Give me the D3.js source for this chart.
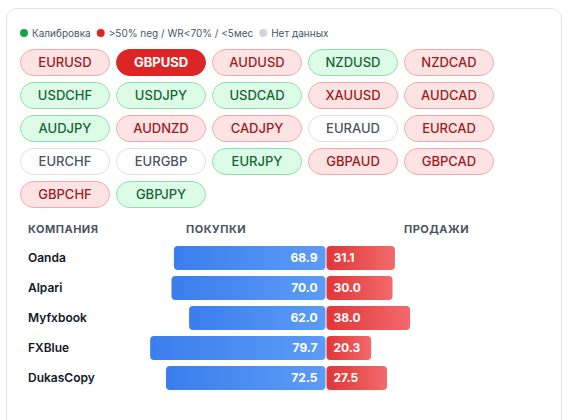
<!DOCTYPE html>
<html lang="ru">
  <head>
    <meta charset="UTF-8" />
    <title>pairs</title>
    <script src="https://d3js.org/d3.v7.min.js"></script>
    <style>
      body { margin: 0; background: #fff; font-family: Inter, "Noto Sans", sans-serif; }
    </style>
  </head>
  <body>
    <script>
      // пары и их статус
      var pairs = [
        "EURUSD", "GBPUSD", "AUDUSD", "NZDUSD", "NZDCAD",
        "USDCHF", "USDJPY", "USDCAD", "XAUUSD", "AUDCAD",
        "AUDJPY", "AUDNZD", "CADJPY", "EURAUD", "EURCAD",
        "EURCHF", "EURGBP", "EURJPY", "GBPAUD", "GBPCAD",
        "GBPCHF", "GBPJPY"
      ];
      var pairStatus = [
        "neg", "sel", "neg", "pos", "neg",
        "pos", "pos", "pos", "neg", "neg",
        "pos", "neg", "neg", "none", "neg",
        "none", "none", "pos", "neg", "neg",
        "neg", "pos"
      ];
      var legendLabels = ["Калибровка", ">50% neg / WR<70% / <5мес", "Нет данных"];
      var headers = ["КОМПАНИЯ", "ПОКУПКИ", "ПРОДАЖИ"];

      // брокеры
      var companies = ["Oanda", "Alpari", "Myfxbook", "FXBlue", "DukasCopy"];
      var buys = [68.9, 70.0, 62.0, 79.7, 72.5];
      var sells = [31.1, 30.0, 38.0, 20.3, 27.5];

      var W = 568, H = 420;
      var svg = d3.select("body").append("svg").attr("width", W).attr("height", H);

      var defs = svg.append("defs");
      var gb = defs.append("linearGradient").attr("id", "gBuy").attr("x1", 0).attr("x2", 1);
      gb.append("stop").attr("offset", "0%").attr("stop-color", "#3b7ded");
      gb.append("stop").attr("offset", "100%").attr("stop-color", "#5c9cf6");
      var gs = defs.append("linearGradient").attr("id", "gSell").attr("x1", 0).attr("x2", 1);
      gs.append("stop").attr("offset", "0%").attr("stop-color", "#e03638");
      gs.append("stop").attr("offset", "100%").attr("stop-color", "#f36a6c");

      // карточка
      svg.append("rect")
        .attr("x", 6.5).attr("y", 8.5)
        .attr("width", 555).attr("height", 440)
        .attr("rx", 10)
        .attr("fill", "#fff")
        .attr("stroke", "#e2e4e8");

      // легенда: точка + подпись, дальше следующая
      var legendColors = ["#16a34a", "#dc2626", "#d1d5db"];
      var lg = svg.append("g").attr("transform", "translate(24,33)");
      var lx = 0;
      legendLabels.forEach((d, i) => {
        var it = lg.append("g").attr("transform", "translate(" + lx + ",0)");
        it.append("circle").attr("r", 4).attr("fill", legendColors[i]);
        var t = it.append("text").attr("x", 8).attr("dy", "0.35em")
          .attr("font-size", 10).attr("fill", "#4b5563").text(d);
        lx += 8 + t.node().getComputedTextLength() + 10;
      });

      // пилюли
      var style = {
        neg: { fill: "#fde3e3", stroke: "#f3a9a9", text: "#9b1c1c", weight: 500 },
        pos: { fill: "#dcfce7", stroke: "#8fe0a8", text: "#166534", weight: 500 },
        sel: { fill: "#dc2626", stroke: "#dc2626", text: "#ffffff", weight: 700 },
        none: { fill: "#ffffff", stroke: "#dcdfe3", text: "#4b5563", weight: 500 }
      };
      var colX = d3.scaleBand().domain(d3.range(5)).range([20, 494]).paddingInner(6 / 96);
      var rowY = d3.scaleBand().domain(d3.range(5)).range([49, 208]).paddingInner(6 / 33);

      var pill = svg.append("g").selectAll("g").data(pairs).enter().append("g")
        .attr("transform", (d, i) => "translate(" + colX(i % 5) + "," + rowY(Math.floor(i / 5)) + ")");
      pill.append("rect")
        .attr("x", 0.5).attr("y", 0.5)
        .attr("width", colX.bandwidth() - 1).attr("height", rowY.bandwidth() - 1)
        .attr("rx", rowY.bandwidth() / 2)
        .attr("fill", (d, i) => style[pairStatus[i]].fill)
        .attr("stroke", (d, i) => style[pairStatus[i]].stroke);
      pill.append("text")
        .attr("x", colX.bandwidth() / 2).attr("y", rowY.bandwidth() / 2).attr("dy", "0.36em")
        .attr("text-anchor", "middle").attr("font-size", 13)
        .attr("font-weight", (d, i) => style[pairStatus[i]].weight)
        .attr("fill", (d, i) => style[pairStatus[i]].text)
        .text(d => d);

      // таблица
      var headerX = [28, 186, 404];
      svg.append("g").selectAll("text").data(headers).enter().append("text")
        .attr("x", (d, i) => headerX[i]).attr("y", 233)
        .attr("font-size", 11).attr("font-weight", 700)
        .attr("letter-spacing", 0.5).attr("fill", "#4b5563")
        .text(d => d);

      var y = d3.scaleBand().domain(companies).range([246, 390]).paddingInner(0.2);
      var x = d3.scaleLinear().domain([0, 100]).range([0, 220]);
      var mid = 325.5;

      var row = svg.append("g").selectAll("g").data(companies).enter().append("g")
        .attr("transform", d => "translate(0," + y(d) + ")");

      row.append("text")
        .attr("x", 28).attr("y", y.bandwidth() / 2).attr("dy", "0.36em")
        .attr("font-size", 12).attr("font-weight", 600).attr("fill", "#111827")
        .text(d => d);

      row.append("rect")
        .attr("x", (d, i) => mid - x(buys[i]))
        .attr("width", (d, i) => x(buys[i]))
        .attr("height", y.bandwidth())
        .attr("rx", 4)
        .attr("fill", "url(#gBuy)");
      row.append("rect")
        .attr("x", mid + 1)
        .attr("width", (d, i) => x(sells[i]))
        .attr("height", y.bandwidth())
        .attr("rx", 4)
        .attr("fill", "url(#gSell)");

      row.append("text")
        .attr("x", mid - 8).attr("y", y.bandwidth() / 2).attr("dy", "0.36em")
        .attr("text-anchor", "end").attr("font-size", 12).attr("font-weight", 700)
        .attr("fill", "#fff")
        .text((d, i) => d3.format(".1f")(buys[i]));
      row.append("text")
        .attr("x", mid + 8).attr("y", y.bandwidth() / 2).attr("dy", "0.36em")
        .attr("font-size", 12).attr("font-weight", 700)
        .attr("fill", "#fff")
        .text((d, i) => d3.format(".1f")(sells[i]));
    </script>
  </body>
</html>
